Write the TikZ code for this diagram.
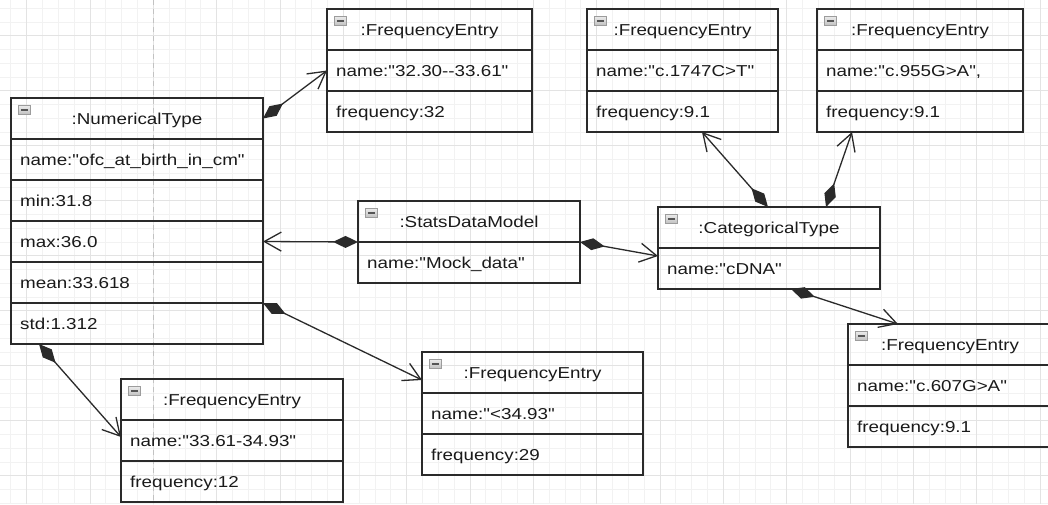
\documentclass[tikz,border=0pt]{standalone}
\usepackage{fontspec}
\setmainfont{Liberation Sans}[FakeStretch=1.19, Ligatures=TeXOff]
\usetikzlibrary{arrows.meta}

\definecolor{gridminor}{HTML}{F2F2F2}
\definecolor{gridmajor}{HTML}{E3E3E3}
\definecolor{pagebreak}{HTML}{C2C2C2}
\definecolor{ink}{HTML}{2A2A2A}
\definecolor{txt}{HTML}{1A1A1A}
\definecolor{iconedge}{HTML}{9C9C9C}
\definecolor{iconbar}{HTML}{555555}

\tikzset{
  objframe/.style={draw=ink, line width=1.5pt, anchor=north west,
    minimum height=41pt, inner sep=0pt, outer sep=0pt},
  objhead/.style={objframe, text=txt, text height=14pt, text depth=3pt},
  objrow/.style={objframe},
  fieldtxt/.style={anchor=west, inner sep=0pt, text=txt,
    text height=14pt, text depth=3pt},
  hdricon/.style={draw=iconedge, line width=0.8pt, minimum width=12.5pt,
    minimum height=9pt, inner sep=0pt, top color=white!92!black,
    bottom color=white!75!black,
    path picture={\draw[iconbar, line width=1.7pt]
      ([xshift=2.6pt]path picture bounding box.west) --
      ([xshift=-2.6pt]path picture bounding box.east);}},
  assoc/.style={draw=ink, line width=1.3pt,
    arrows={Diamond[length=25pt,width=12pt]-Straight Barb[length=17pt,width=19pt]}},
  minorline/.style={gridminor, line width=0.9pt},
  majorline/.style={gridmajor, line width=1pt},
}

% object box: name, left, top, width, title, list of slots
\newcommand\umlobject[6]{%
  \node[objhead, minimum width=#4pt] (#1) at (#2,#3) {#5};
  \node[hdricon] (#1-icon) at ([xshift=13.5pt,yshift=-12pt]#1.north west) {};
  \foreach \f [count=\k] in {#6} {
    \node[objrow, minimum width=#4pt] (#1-\k) at (#2,{#3+41*\k}) {};
    \node[fieldtxt] (#1-\k-t) at ([xshift=9pt]#1-\k.west) {\f};
  }%
}

\begin{document}
\begin{tikzpicture}[x=1pt, y=-1pt, font=\fontsize{15.8}{19}\selectfont]
  \path[use as bounding box] (0,0) rectangle (1048,504);
  \clip (0,0) rectangle (1048,504);
  \fill[white] (0,0) rectangle (1048,504);

  % background grid
  \foreach \i in {0,...,66}
    \draw[minorline] ({10.87+15.8333*\i},0) -- ({10.87+15.8333*\i},504);
  \foreach \j in {0,...,36}
    \draw[minorline] (0,{8.2+13.75*\j}) -- (1048,{8.2+13.75*\j});
  \foreach \i in {0,...,16}
    \draw[majorline] ({26.7+63.333*\i},0) -- ({26.7+63.333*\i},504);
  \foreach \j in {0,...,8}
    \draw[majorline] (0,{35.7+55*\j}) -- (1048,{35.7+55*\j});

  % page break
  \draw[pagebreak, line width=1pt, dash pattern=on 5pt off 4pt] (153.3,0) -- (153.3,504);

  % objects
  \umlobject{num}{11}{98}{252}{:NumericalType}
    {{name:"ofc\_at\_birth\_in\_cm"},{min:31.8},{max:36.0},{mean:33.618},{std:1.312}}
  \umlobject{fe1}{327}{9}{205}{:FrequencyEntry}
    {{name:"32.30-{}-33.61"},{frequency:32}}
  \umlobject{fe2}{587}{9}{191}{:FrequencyEntry}
    {{name:"c.1747C>T"},{frequency:9.1}}
  \umlobject{fe3}{817}{9}{206}{:FrequencyEntry}
    {{name:"c.955G>A",},{frequency:9.1}}
  \umlobject{sdm}{358}{201}{222}{:StatsDataModel}
    {{name:"Mock\_data"}}
  \umlobject{cat}{658}{207}{222}{:CategoricalType}
    {{name:"cDNA"}}
  \umlobject{fe4}{848}{324}{204}{:FrequencyEntry}
    {{name:"c.607G>A"},{frequency:9.1}}
  \umlobject{fe5}{121}{379}{222}{:FrequencyEntry}
    {{name:"33.61-34.93"},{frequency:12}}
  \umlobject{fe6}{422}{352}{221}{:FrequencyEntry}
    {{name:"<34.93"},{frequency:29}}

  % compositions
  \draw[assoc] (num.east) -- (fe1-1.west);
  \draw[assoc] (sdm.south west) -- (num-3.east);
  \draw[assoc] (sdm.south east) -- ([yshift=-8pt]cat-1.north west);
  \draw[assoc] ([xshift=110pt]cat.north west) -- ([xshift=115pt]fe2-2.south west);
  \draw[assoc] ([xshift=168pt]cat.north west) -- ([xshift=35pt]fe3-2.south west);
  \draw[assoc] ([xshift=133pt]cat-1.south west) -- ([xshift=50pt]fe4.north west);
  \draw[assoc] (num-4.south east) -- ([yshift=-28pt]fe6.north west);
  \draw[assoc] ([xshift=28pt]num-5.south west) -- ([yshift=-17pt]fe5-1.north west);
\end{tikzpicture}
\end{document}
